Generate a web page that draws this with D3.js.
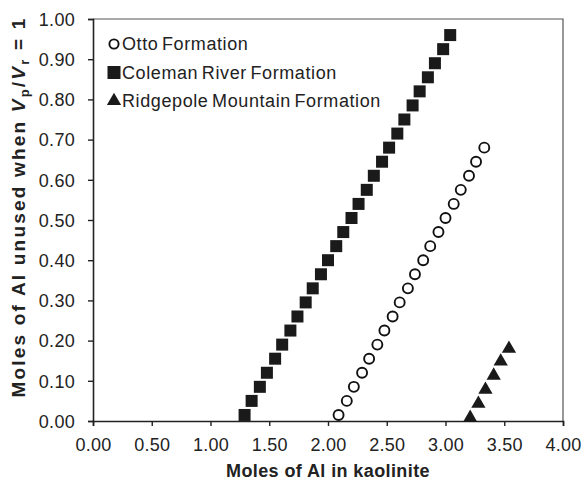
<!DOCTYPE html>
<html>
<head>
<meta charset="utf-8">
<script src="https://cdn.jsdelivr.net/npm/d3@7"></script>
<style>
  body { margin: 0; background: #fff; }
  text { font-family: "Liberation Sans", Arial, sans-serif; }
</style>
</head>
<body>
<div class="chart"></div>
<script>
// data
const ottoX = [2.09, 2.16, 2.22, 2.29, 2.35, 2.42, 2.48, 2.55, 2.61, 2.68, 2.74, 2.81, 2.87, 2.94, 3.00, 3.07, 3.13, 3.20, 3.26, 3.33]
const ottoY = [0.015, 0.05, 0.085, 0.12, 0.155, 0.19, 0.225, 0.26, 0.295, 0.33, 0.365, 0.40, 0.435, 0.47, 0.505, 0.54, 0.575, 0.61, 0.645, 0.68]

const colemanX = [1.29, 1.35, 1.42, 1.48, 1.55, 1.61, 1.68, 1.74, 1.81, 1.87, 1.94, 2.00, 2.07, 2.13, 2.20, 2.26, 2.33, 2.39, 2.46, 2.52, 2.59, 2.65, 2.72, 2.78, 2.85, 2.91, 2.98, 3.04]
const colemanY = [0.015, 0.05, 0.085, 0.12, 0.155, 0.19, 0.225, 0.26, 0.295, 0.33, 0.365, 0.40, 0.435, 0.47, 0.505, 0.54, 0.575, 0.61, 0.645, 0.68, 0.715, 0.75, 0.785, 0.82, 0.855, 0.89, 0.925, 0.96]

const ridgeX = [3.21, 3.28, 3.34, 3.41, 3.47, 3.54]
const ridgeY = [0.008, 0.043, 0.078, 0.113, 0.148, 0.18]

const xTicks = [0, 0.5, 1, 1.5, 2, 2.5, 3, 3.5, 4]
const yTicks = [0, 0.1, 0.2, 0.3, 0.4, 0.5, 0.6, 0.7, 0.8, 0.9, 1.0]
const seriesNames = ["Otto Formation", "Coleman River Formation", "Ridgepole Mountain Formation"]

const width = 583
const height = 482
const margin = { top: 19, right: 20, bottom: 61, left: 93 }

const svg = d3.select(".chart").append("svg")
  .attr("width", width)
  .attr("height", height)

const x = d3.scaleLinear().domain([0, 4]).range([margin.left, width - margin.right])
const y = d3.scaleLinear().domain([0, 1]).range([height - margin.bottom, margin.top])

// frame (top and right)
svg.append("path")
  .attr("d", "M" + margin.left + "," + margin.top + "H" + (width - margin.right) + "V" + (height - margin.bottom))
  .attr("fill", "none")
  .attr("stroke", "#555")
  .attr("stroke-width", 1.2)

const xAxis = svg.append("g")
  .attr("transform", "translate(0," + (height - margin.bottom) + ")")
  .call(d3.axisBottom(x).tickValues(xTicks).tickFormat(d3.format(".2f")).tickSize(5).tickPadding(12))

const yAxis = svg.append("g")
  .attr("transform", "translate(" + margin.left + ",0)")
  .call(d3.axisLeft(y).tickValues(yTicks).tickFormat(d3.format(".2f")).tickSize(5).tickPadding(13))

svg.selectAll(".domain").attr("stroke", "#222").attr("stroke-width", 1.6)
svg.selectAll(".tick line").attr("stroke", "#222").attr("stroke-width", 1.4)
svg.selectAll(".tick text")
  .style("font-size", "18px")
  .style("letter-spacing", "0.3px")
  .attr("fill", "#222")
yAxis.selectAll(".tick text").attr("dy", "0.35em")

// Otto - open circles
svg.append("g").selectAll("circle")
  .data(ottoX.map((d, i) => [d, ottoY[i]]))
  .enter().append("circle")
  .attr("cx", d => x(d[0]))
  .attr("cy", d => y(d[1]))
  .attr("r", 5)
  .attr("fill", "#fff")
  .attr("stroke", "#111")
  .attr("stroke-width", 1.9)

// Coleman - filled squares
svg.append("g").selectAll("rect")
  .data(colemanX.map((d, i) => [d, colemanY[i]]))
  .enter().append("rect")
  .attr("x", d => x(d[0]) - 6)
  .attr("y", d => y(d[1]) - 6)
  .attr("width", 12)
  .attr("height", 12)
  .attr("fill", "#1a1a1a")

// Ridgepole - filled triangles
const tri = d3.symbol().type(d3.symbolTriangle).size(88)
svg.append("g").selectAll("path")
  .data(ridgeX.map((d, i) => [d, ridgeY[i]]))
  .enter().append("path")
  .attr("d", tri)
  .attr("transform", d => "translate(" + x(d[0]) + "," + y(d[1]) + ")")
  .attr("fill", "#1a1a1a")

// Legend
const legend = svg.append("g").attr("transform", "translate(114,44)")
const rowH = 28.5
seriesNames.forEach(function(name, i) {
  const row = legend.append("g").attr("transform", "translate(0," + i * rowH + ")")
  if (i === 0) {
    row.append("circle").attr("r", 4.6).attr("fill", "#fff").attr("stroke", "#111").attr("stroke-width", 1.9)
  } else if (i === 1) {
    row.append("rect").attr("x", -6.5).attr("y", -6.5).attr("width", 13).attr("height", 13).attr("fill", "#1a1a1a")
  } else {
    row.append("path").attr("d", tri).attr("fill", "#1a1a1a")
  }
  row.append("text")
    .attr("x", 8)
    .attr("dy", "0.36em")
    .style("font-size", "18px")
    .style("letter-spacing", "0.6px")
    .style("word-spacing", "-2px")
    .attr("fill", "#222")
    .text(name)
})

// Axis titles
svg.append("text")
  .attr("x", x(2))
  .attr("y", 477)
  .attr("text-anchor", "middle")
  .style("font-size", "18px")
  .style("font-weight", "bold")
  .style("letter-spacing", "0.4px")
  .attr("fill", "#222")
  .text("Moles of Al in kaolinite")

const yTitle = svg.append("text")
  .attr("transform", "translate(25," + 207 + ") rotate(-90)")
  .attr("text-anchor", "middle")
  .style("font-size", "19px")
  .style("font-weight", "bold")
  .style("letter-spacing", "2.2px")
  .attr("fill", "#222")
yTitle.append("tspan").text("Moles of Al unused when ")
yTitle.append("tspan").style("font-style", "italic").text("V")
yTitle.append("tspan").attr("dy", 4).style("font-size", "13px").text("p")
yTitle.append("tspan").attr("dy", -4).text("/")
yTitle.append("tspan").style("font-style", "italic").text("V")
yTitle.append("tspan").attr("dy", 4).style("font-size", "13px").text("r")
yTitle.append("tspan").attr("dy", -4).text(" = 1")
</script>
</body>
</html>
